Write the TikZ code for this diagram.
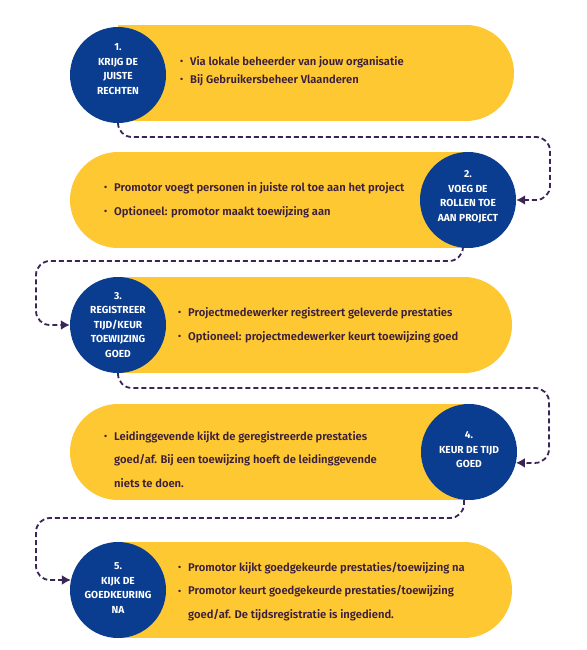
\documentclass[tikz,border=0pt]{standalone}
\usepackage{fontspec}
\setmainfont{Fira Sans}[UprightFont=* SemiBold, BoldFont=* Bold]
\usetikzlibrary{arrows.meta}
\definecolor{pillyellow}{HTML}{FDC832}
\definecolor{circblue}{HTML}{0A3C8F}
\definecolor{linepurple}{HTML}{3B2556}
\definecolor{bodytext}{HTML}{3B1F3A}
\tikzset{
 pill/.style={fill=pillyellow},
 stepcirc/.style={circle, fill=circblue, minimum size=96pt, inner sep=0pt},
 steplabel/.style={text=white, font=\bfseries\fontsize{10.2}{14.5}\selectfont, align=center, inner sep=0pt},
 bodyblock/.style={text=bodytext, font=\fontsize{11.2}{23.5}\selectfont, align=left, anchor=west, inner sep=0pt},
 flow/.style={draw=linepurple, line width=1.8pt, dash pattern=on 5pt off 3pt, rounded corners=14pt, -{Latex[length=9pt,width=10pt]}},
}
\newcommand\bul{\makebox[10pt][l]{\raisebox{0.6pt}{\fontsize{9}{9}\selectfont •}}}
\newcommand\ind{\hspace*{10pt}}
\begin{document}
\begin{tikzpicture}[x=1pt,y=-1pt]
\useasboundingbox (0,0) rectangle (586,650);
% pills
\fill[pill] (118,25) rectangle (466,121); \fill[pill] (466,73) circle[radius=48];
\fill[pill] (118,152) rectangle (468,248); \fill[pill] (118,200) circle[radius=48];
\fill[pill] (118,277) rectangle (464,373); \fill[pill] (464,325) circle[radius=48];
\fill[pill] (118,404) rectangle (469,500); \fill[pill] (118,452) circle[radius=48];
\fill[pill] (118,542) rectangle (464,638); \fill[pill] (464,590) circle[radius=48];
% circles
\node[stepcirc] (c1) at (118,75) {};
\node[stepcirc] (c2) at (468,200) {};
\node[stepcirc] (c3) at (118,325) {};
\node[stepcirc] (c4) at (469,452) {};
\node[stepcirc] (c5) at (118,590) {};
% circle labels
\node[steplabel] (l1) at (118,69) {1.\\KRIJG DE\\JUISTE\\RECHTEN};
\node[steplabel] (l2) at (468,197) {2.\\VOEG DE\\ROLLEN TOE\\AAN PROJECT};
\node[steplabel] (l3) at (118,325) {3.\\REGISTREER\\TIJD/KEUR\\TOEWIJZING\\GOED};
\node[steplabel] (l4) at (469,450) {4.\\KEUR DE TIJD\\GOED};
\node[steplabel] (l5) at (118,588) {5.\\KIJK DE\\GOEDKEURING\\NA};
% body texts
\node[bodyblock, font=\fontsize{11.2}{18}\selectfont] (b1) at (180,71) {\bul Via lokale beheerder van jouw organisatie\\ \bul Bij Gebruikersbeheer Vlaanderen};
\node[bodyblock] (b2) at (104,200) {\bul Promotor voegt personen in juiste rol toe aan het project\\ \bul Optioneel: promotor maakt toewijzing aan};
\node[bodyblock] (b3) at (178,325) {\bul Projectmedewerker registreert geleverde prestaties\\ \bul Optioneel: projectmedewerker keurt toewijzing goed};
\node[bodyblock] (b4) at (104,459.5) {\bul Leidinggevende kijkt de geregistreerde prestaties\\ \ind goed/af. Bij een toewijzing hoeft de leidinggevende\\ \ind niets te doen.};
\node[bodyblock] (b5) at (178,591.5) {\bul Promotor kijkt goedgekeurde prestaties/toewijzing na\\ \bul Promotor keurt goedgekeurde prestaties/toewijzing\\ \ind goed/af. De tijdsregistratie is ingediend.};
% connectors
\draw[flow] (c1.south) -- (118,137) -- (550,137) -- (550,200) -- (c2.east);
\draw[flow] (c2.-96) -- (463,261) -- (36,261) -- (36,325) -- (c3.west);
\draw[flow] (c3.south) -- (118,388) -- (549,388) -- (549,463) -- (c4.-13);
\draw[flow] (c4.-96) -- (464,518) -- (36,518) -- (36,580) -- (c5.168);
\end{tikzpicture}
\end{document}
